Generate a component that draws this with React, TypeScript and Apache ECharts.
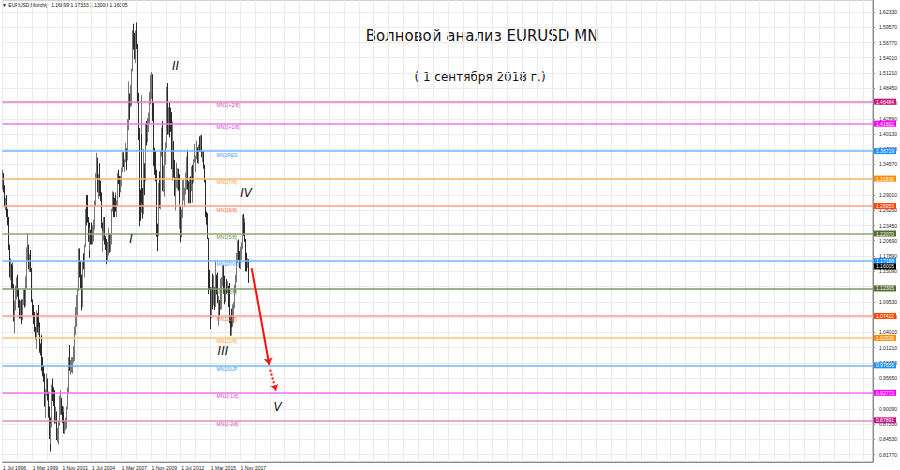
import React, { useEffect, useRef } from 'react';
import * as echarts from 'echarts';

// Monthly EURUSD bars, Jul 1996 .. Aug 2018 (one line per year)
const opens = [
  1.305, 1.325, 1.303, 1.272, 1.281, 1.262,
  1.245, 1.196, 1.148, 1.160, 1.128, 1.150, 1.123, 1.065, 1.087, 1.118, 1.132, 1.110,
  1.092, 1.073, 1.085, 1.066, 1.095, 1.105, 1.097, 1.110, 1.128, 1.185, 1.195, 1.160,
  1.168, 1.156, 1.098, 1.077, 1.058, 1.042, 1.035, 1.069, 1.048, 1.068, 1.056, 1.008,
  1.007, 0.970, 0.965, 0.957, 0.910, 0.934, 0.954, 0.927, 0.889, 0.883, 0.850, 0.871,
  0.939, 0.932, 0.921, 0.880, 0.889, 0.848, 0.848, 0.877, 0.911, 0.911, 0.903, 0.890,
  0.890, 0.859, 0.867, 0.872, 0.902, 0.933, 0.991, 0.978, 0.981, 0.986, 0.988, 0.993,
  1.049, 1.076, 1.079, 1.091, 1.118, 1.180, 1.150, 1.124, 1.098, 1.165, 1.159, 1.199,
  1.259, 1.248, 1.247, 1.232, 1.197, 1.220, 1.219, 1.202, 1.217, 1.243, 1.276, 1.329,
  1.356, 1.304, 1.325, 1.296, 1.287, 1.230, 1.210, 1.213, 1.232, 1.203, 1.199, 1.179,
  1.184, 1.215, 1.192, 1.212, 1.262, 1.291, 1.279, 1.277, 1.281, 1.268, 1.275, 1.325,
  1.320, 1.303, 1.323, 1.335, 1.365, 1.345, 1.353, 1.369, 1.363, 1.426, 1.449, 1.466,
  1.459, 1.486, 1.519, 1.579, 1.559, 1.555, 1.575, 1.562, 1.468, 1.409, 1.273, 1.269,
  1.397, 1.281, 1.267, 1.325, 1.323, 1.415, 1.403, 1.425, 1.433, 1.464, 1.472, 1.500,
  1.433, 1.386, 1.363, 1.351, 1.329, 1.230, 1.223, 1.305, 1.268, 1.363, 1.393, 1.299,
  1.338, 1.369, 1.380, 1.417, 1.481, 1.439, 1.450, 1.439, 1.438, 1.339, 1.385, 1.344,
  1.296, 1.308, 1.333, 1.334, 1.324, 1.237, 1.266, 1.230, 1.257, 1.286, 1.296, 1.299,
  1.319, 1.358, 1.306, 1.282, 1.317, 1.300, 1.301, 1.330, 1.322, 1.353, 1.358, 1.359,
  1.374, 1.349, 1.380, 1.377, 1.387, 1.363, 1.369, 1.339, 1.313, 1.263, 1.253, 1.245,
  1.210, 1.129, 1.119, 1.073, 1.122, 1.099, 1.115, 1.098, 1.121, 1.118, 1.100, 1.057,
  1.086, 1.083, 1.087, 1.138, 1.145, 1.113, 1.110, 1.117, 1.116, 1.124, 1.098, 1.059,
  1.052, 1.080, 1.058, 1.065, 1.090, 1.124, 1.142, 1.184, 1.191, 1.181, 1.165, 1.190,
  1.200, 1.241, 1.219, 1.232, 1.208, 1.169, 1.168, 1.16899,
];
const highs = [
  1.336, 1.330, 1.308, 1.285, 1.290, 1.265,
  1.250, 1.200, 1.175, 1.165, 1.168, 1.162, 1.128, 1.098, 1.125, 1.140, 1.145, 1.120,
  1.100, 1.098, 1.100, 1.100, 1.118, 1.118, 1.115, 1.142, 1.195, 1.220, 1.200, 1.182,
  1.190, 1.157, 1.100, 1.090, 1.077, 1.050, 1.080, 1.075, 1.075, 1.090, 1.058, 1.020,
  1.035, 0.995, 0.980, 0.965, 0.936, 0.965, 0.956, 0.932, 0.905, 0.885, 0.875, 0.945,
  0.956, 0.940, 0.935, 0.905, 0.896, 0.866, 0.880, 0.925, 0.935, 0.921, 0.906, 0.905,
  0.895, 0.880, 0.885, 0.905, 0.940, 0.995, 1.017, 0.990, 0.995, 0.995, 1.015, 1.050,
  1.086, 1.093, 1.108, 1.120, 1.193, 1.193, 1.170, 1.145, 1.170, 1.184, 1.200, 1.265,
  1.290, 1.290, 1.250, 1.240, 1.230, 1.227, 1.240, 1.235, 1.245, 1.280, 1.330, 1.367,
  1.358, 1.328, 1.348, 1.316, 1.295, 1.240, 1.225, 1.250, 1.250, 1.215, 1.210, 1.205,
  1.230, 1.220, 1.218, 1.265, 1.297, 1.295, 1.285, 1.295, 1.290, 1.280, 1.330, 1.336,
  1.325, 1.325, 1.340, 1.368, 1.368, 1.355, 1.385, 1.375, 1.428, 1.450, 1.497, 1.475,
  1.490, 1.520, 1.590, 1.602, 1.585, 1.590, 1.604, 1.565, 1.476, 1.412, 1.300, 1.472,
  1.400, 1.303, 1.374, 1.348, 1.420, 1.425, 1.430, 1.440, 1.478, 1.509, 1.514, 1.510,
  1.458, 1.396, 1.376, 1.370, 1.336, 1.238, 1.312, 1.333, 1.370, 1.413, 1.425, 1.344,
  1.372, 1.386, 1.424, 1.487, 1.494, 1.450, 1.458, 1.449, 1.441, 1.424, 1.388, 1.354,
  1.323, 1.349, 1.339, 1.338, 1.328, 1.275, 1.269, 1.264, 1.317, 1.318, 1.303, 1.331,
  1.360, 1.371, 1.315, 1.322, 1.324, 1.342, 1.335, 1.345, 1.355, 1.383, 1.362, 1.389,
  1.377, 1.382, 1.397, 1.399, 1.399, 1.370, 1.370, 1.345, 1.318, 1.290, 1.260, 1.257,
  1.212, 1.154, 1.122, 1.122, 1.147, 1.144, 1.122, 1.171, 1.145, 1.149, 1.105, 1.106,
  1.099, 1.138, 1.141, 1.162, 1.162, 1.143, 1.119, 1.137, 1.133, 1.125, 1.130, 1.070,
  1.082, 1.083, 1.091, 1.095, 1.127, 1.145, 1.185, 1.207, 1.209, 1.188, 1.196, 1.204,
  1.254, 1.256, 1.248, 1.240, 1.210, 1.185, 1.175, 1.17333,
];
const lows = [
  1.300, 1.295, 1.268, 1.262, 1.250, 1.235,
  1.190, 1.140, 1.135, 1.120, 1.125, 1.118, 1.060, 1.038, 1.080, 1.100, 1.105, 1.085,
  1.065, 1.065, 1.055, 1.062, 1.090, 1.085, 1.088, 1.095, 1.120, 1.170, 1.155, 1.150,
  1.150, 1.095, 1.070, 1.055, 1.041, 1.027, 1.010, 1.040, 1.035, 1.050, 1.003, 0.998,
  0.970, 0.960, 0.950, 0.905, 0.884, 0.925, 0.916, 0.885, 0.846, 0.823, 0.837, 0.867,
  0.915, 0.906, 0.874, 0.874, 0.844, 0.840, 0.836, 0.870, 0.890, 0.890, 0.875, 0.875,
  0.856, 0.855, 0.862, 0.865, 0.900, 0.928, 0.970, 0.963, 0.967, 0.965, 0.985, 0.988,
  1.035, 1.065, 1.050, 1.069, 1.115, 1.140, 1.120, 1.080, 1.086, 1.155, 1.140, 1.195,
  1.235, 1.240, 1.205, 1.176, 1.190, 1.200, 1.200, 1.200, 1.205, 1.227, 1.270, 1.320,
  1.295, 1.283, 1.288, 1.279, 1.230, 1.200, 1.187, 1.207, 1.200, 1.190, 1.164, 1.170,
  1.180, 1.185, 1.187, 1.200, 1.260, 1.250, 1.250, 1.265, 1.260, 1.250, 1.270, 1.310,
  1.286, 1.295, 1.306, 1.332, 1.341, 1.332, 1.350, 1.335, 1.353, 1.408, 1.445, 1.427,
  1.450, 1.452, 1.515, 1.555, 1.537, 1.530, 1.556, 1.457, 1.390, 1.233, 1.243, 1.258,
  1.275, 1.247, 1.255, 1.290, 1.315, 1.380, 1.386, 1.405, 1.420, 1.455, 1.465, 1.425,
  1.385, 1.343, 1.327, 1.315, 1.214, 1.188, 1.215, 1.266, 1.264, 1.360, 1.297, 1.296,
  1.287, 1.345, 1.375, 1.410, 1.400, 1.400, 1.395, 1.405, 1.337, 1.316, 1.322, 1.288,
  1.262, 1.303, 1.300, 1.298, 1.236, 1.229, 1.204, 1.213, 1.248, 1.280, 1.268, 1.291,
  1.300, 1.300, 1.275, 1.275, 1.275, 1.297, 1.276, 1.310, 1.313, 1.349, 1.332, 1.355,
  1.348, 1.347, 1.369, 1.369, 1.359, 1.350, 1.338, 1.313, 1.259, 1.250, 1.236, 1.210,
  1.110, 1.118, 1.046, 1.066, 1.082, 1.089, 1.081, 1.086, 1.109, 1.093, 1.056, 1.052,
  1.071, 1.081, 1.082, 1.124, 1.110, 1.091, 1.095, 1.110, 1.112, 1.086, 1.057, 1.034,
  1.034, 1.049, 1.050, 1.057, 1.084, 1.112, 1.131, 1.166, 1.172, 1.157, 1.155, 1.172,
  1.192, 1.216, 1.215, 1.205, 1.151, 1.151, 1.157, 1.13008,
];
const closes = [
  1.325, 1.303, 1.272, 1.281, 1.262, 1.245,
  1.196, 1.148, 1.160, 1.128, 1.150, 1.123, 1.065, 1.087, 1.118, 1.132, 1.110, 1.092,
  1.073, 1.085, 1.066, 1.095, 1.105, 1.097, 1.110, 1.128, 1.185, 1.195, 1.160, 1.168,
  1.156, 1.098, 1.077, 1.058, 1.042, 1.035, 1.069, 1.048, 1.068, 1.056, 1.008, 1.007,
  0.970, 0.965, 0.957, 0.910, 0.934, 0.954, 0.927, 0.889, 0.883, 0.850, 0.871, 0.939,
  0.932, 0.921, 0.880, 0.889, 0.848, 0.848, 0.877, 0.911, 0.911, 0.903, 0.890, 0.890,
  0.859, 0.867, 0.872, 0.902, 0.933, 0.991, 0.978, 0.981, 0.986, 0.988, 0.993, 1.049,
  1.076, 1.079, 1.091, 1.118, 1.180, 1.150, 1.124, 1.098, 1.165, 1.159, 1.199, 1.259,
  1.248, 1.247, 1.232, 1.197, 1.220, 1.219, 1.202, 1.217, 1.243, 1.276, 1.329, 1.356,
  1.304, 1.325, 1.296, 1.287, 1.230, 1.210, 1.213, 1.232, 1.203, 1.199, 1.179, 1.184,
  1.215, 1.192, 1.212, 1.262, 1.291, 1.279, 1.277, 1.281, 1.268, 1.275, 1.325, 1.320,
  1.303, 1.323, 1.335, 1.365, 1.345, 1.353, 1.369, 1.363, 1.426, 1.449, 1.466, 1.459,
  1.486, 1.519, 1.579, 1.559, 1.555, 1.575, 1.562, 1.468, 1.409, 1.273, 1.269, 1.397,
  1.281, 1.267, 1.325, 1.323, 1.415, 1.403, 1.425, 1.433, 1.464, 1.472, 1.500, 1.433,
  1.386, 1.363, 1.351, 1.329, 1.230, 1.223, 1.305, 1.268, 1.363, 1.393, 1.299, 1.338,
  1.369, 1.380, 1.417, 1.481, 1.439, 1.450, 1.439, 1.438, 1.339, 1.385, 1.344, 1.296,
  1.308, 1.333, 1.334, 1.324, 1.237, 1.266, 1.230, 1.257, 1.286, 1.296, 1.299, 1.319,
  1.358, 1.306, 1.282, 1.317, 1.300, 1.301, 1.330, 1.322, 1.353, 1.358, 1.359, 1.374,
  1.349, 1.380, 1.377, 1.387, 1.363, 1.369, 1.339, 1.313, 1.263, 1.253, 1.245, 1.210,
  1.129, 1.119, 1.073, 1.122, 1.099, 1.115, 1.098, 1.121, 1.118, 1.100, 1.057, 1.086,
  1.083, 1.087, 1.138, 1.145, 1.113, 1.110, 1.117, 1.116, 1.124, 1.098, 1.059, 1.052,
  1.080, 1.058, 1.065, 1.090, 1.124, 1.142, 1.184, 1.191, 1.181, 1.165, 1.190, 1.200,
  1.241, 1.219, 1.232, 1.208, 1.169, 1.168, 1.169, 1.16005,
];

const monthShort = ['Jan', 'Feb', 'Mar', 'Apr', 'May', 'Jun', 'Jul', 'Aug', 'Sep', 'Oct', 'Nov', 'Dec'];
const startYear = 1996;
const startMonth = 6; // July
const slotCount = 938; // months visible across the chart width (incl. empty right shift)
const categories: string[] = [];
for (let i = 0; i < slotCount; i++) {
  const m = startMonth + i;
  categories.push('1 ' + monthShort[m % 12] + ' ' + (startYear + Math.floor(m / 12)));
}

const xTickLabels = ['1 Jul 1996', '1 Mar 1999', '1 Nov 2001', '1 Jul 2004', '1 Mar 2007', '1 Nov 2009', '1 Jul 2012', '1 Mar 2015', '1 Nov 2017'];
// grid/tick positions of the price scale
const yTickValues = [
  1.6233, 1.5957, 1.5677, 1.5401, 1.5121, 1.4845, 1.4569, 1.4289, 1.4013, 1.3733,
  1.3457, 1.3181, 1.2901, 1.2625, 1.2345, 1.2069, 1.1789, 1.1509, 1.1233, 1.0953,
  1.0677, 1.0401, 1.0121, 0.9845, 0.9565, 0.9289, 0.9009, 0.8733, 0.8453, 0.8177,
];
// price labels that are not hidden behind a level tag
const yLabelValues = [
  1.6233, 1.5957, 1.5677, 1.5401, 1.5121, 1.4845, 1.4569, 1.4289, 1.4013, 1.3733,
  1.3457, 1.2901, 1.2625, 1.2345, 1.2069, 1.1789, 1.1509, 1.0953,
  1.0677, 1.0401, 1.0121, 0.9845, 0.9565, 0.9009, 0.8733, 0.8453, 0.8177,
];
const yMin = 0.80405;
const yMax = 1.6451;

const levelValues = [1.46484, 1.41602, 1.36719, 1.31836, 1.26953, 1.2207, 1.17188, 1.12305, 1.07422, 1.02539, 0.97656, 0.92773, 0.87891];
const levelNames = ['MN1[+2/8]', 'MN1[+1/8]', 'MN1RES', 'MN1[7/8]', 'MN1[6/8]', 'MN1[5/8]', 'MN1PIVOT', 'MN1[3/8]', 'MN1[2/8]', 'MN1[1/8]', 'MN1SUP', 'MN1[-1/8]', 'MN1[-2/8]'];
const levelLineColors = ['#e97cc2', '#ef77ef', '#72b6ff', '#ffb86c', '#ffa08a', '#8ea66c', '#72b6ff', '#7f9866', '#ffa08a', '#ffc27a', '#72b6ff', '#ef77ef', '#e58cb8'];
const levelTagColors = ['#c8197d', '#ff00ff', '#1e90ff', '#ff8c00', '#ff4500', '#556b2f', '#1e90ff', '#556b2f', '#ff4500', '#ff8c00', '#1e90ff', '#ff00ff', '#c71585'];
const levelTextColors = ['#d455a8', '#e040e0', '#3d9cff', '#ff9a30', '#ff7050', '#6f8a4c', '#3d9cff', '#6f8a4c', '#ff7050', '#ff9a30', '#3d9cff', '#e040e0', '#d455a8'];

const waveLabels = ['I', 'II', 'III', 'IV', 'V'];
const waveIndex = [138, 186, 237, 262, 296];
const waveValue = [1.210, 1.525, 1.006, 1.294, 0.904];

const arrowSolid = [[268, 1.157], [287, 0.981]];
const arrowDotted = [[288, 0.972], [294, 0.934]];

const titleText = 'Волновой анализ EURUSD MN';
const subtitleText = '( 1 сентября 2018 г.)';
const symbolText = 'EURUSD,Monthly';

export default function App() {
  const ref = useRef<HTMLDivElement>(null);
  useEffect(() => {
    const chart = echarts.init(ref.current as HTMLDivElement, null, { renderer: 'svg' });
    const last = closes.length - 1;
    const candleData = closes.map((c, i) => [opens[i], c, lows[i], highs[i]]);
    const small = 'Liberation Sans';
    const header = '\u25BC ' + symbolText + '  ' + [opens[last], highs[last], lows[last], closes[last]].map((v) => v.toFixed(5)).join(' ');
    const tagLabel = (text: string, bg: string) => ({
      show: true, position: 'end', distance: 1, formatter: text, color: '#ffffff', backgroundColor: bg,
      padding: [1, 2, 0, 2], fontSize: 5, fontFamily: small, opacity: 1,
    });

    const option: any = {
      animation: false,
      backgroundColor: '#ffffff',
      textStyle: { fontFamily: small },
      grid: { left: 0, top: 0, width: 879, height: 462, show: true, borderColor: '#a0a0a0', borderWidth: 1, backgroundColor: '#ffffff' },
      xAxis: {
        type: 'category',
        data: categories,
        boundaryGap: true,
        axisLine: { show: true, lineStyle: { color: '#8c8c8c' } },
        axisTick: { show: false },
        axisLabel: {
          interval: 31,
          formatter: (v: string) => (xTickLabels.indexOf(v) >= 0 ? v : ''),
          align: 'left',
          fontSize: 5,
          color: '#222',
          margin: 3,
          fontFamily: small,
        },
        splitLine: { show: true, interval: 15, lineStyle: { color: '#ebebeb', width: 1 } },
      },
      yAxis: {
        type: 'value',
        position: 'right',
        min: yMin,
        max: yMax,
        axisLine: { show: true, lineStyle: { color: '#8c8c8c' } },
        axisTick: { show: true, length: 2, customValues: yTickValues, lineStyle: { color: '#8c8c8c' } },
        axisLabel: { customValues: yLabelValues, formatter: (v: number) => v.toFixed(5), fontSize: 5, color: '#222', margin: 6, fontFamily: small },
        splitLine: { show: true, lineStyle: { color: '#ebebeb', width: 1 } },
      },
      graphic: [
        { type: 'text', left: 2, top: 2, style: { text: header, fontSize: 5, fill: '#111', fontFamily: small } },
        { type: 'text', x: 482, y: 36, style: { text: titleText, fontSize: 15, fill: '#111', fontFamily: 'DejaVu Sans', textAlign: 'center', textVerticalAlign: 'middle' } },
        { type: 'text', x: 480, y: 77, style: { text: subtitleText, fontSize: 12, fill: '#111', fontFamily: 'DejaVu Sans', textAlign: 'center', textVerticalAlign: 'middle' } },
      ],
      series: [
        {
          type: 'candlestick',
          data: candleData,
          barWidth: 1,
          itemStyle: { color: '#ffffff', color0: '#2a2a2a', borderColor: '#777777', borderColor0: '#2a2a2a', borderWidth: 1 },
          z: 3,
        },
        {
          type: 'line',
          data: [],
          silent: true,
          clip: false,
          symbol: 'none',
          z: 2,
          markLine: {
            silent: true,
            symbol: 'none',
            animation: false,
            data: levelValues.map((v, i) => ({
              yAxis: v,
              lineStyle: { color: levelLineColors[i], width: 1.5, type: 'solid' },
              label: { show: true, position: 'insideStartBottom', distance: [214, 1], formatter: levelNames[i], color: levelTextColors[i], fontSize: 5, fontFamily: small },
            })),
          },
        },
        {
          type: 'line',
          data: [],
          silent: true,
          clip: false,
          symbol: 'none',
          z: 5,
          markLine: {
            silent: true,
            symbol: 'none',
            animation: false,
            lineStyle: { color: 'rgba(0,0,0,0)', width: 1 },
            data: levelValues
              .map((v, i) => ({ yAxis: v, label: tagLabel(v.toFixed(5), levelTagColors[i]) }))
              .concat([{ yAxis: closes[last], label: tagLabel(closes[last].toFixed(5), '#000000') }]),
          },
        },
        {
          type: 'line',
          data: [],
          silent: true,
          clip: false,
          symbol: 'none',
          z: 6,
          markLine: {
            silent: true,
            symbol: ['none', 'arrow'],
            symbolSize: 7,
            animation: false,
            lineStyle: { color: '#ff1010', width: 2, type: 'solid' },
            label: { show: false },
            data: [[{ coord: arrowSolid[0] }, { coord: arrowSolid[1] }]],
          },
        },
        {
          type: 'line',
          data: [],
          silent: true,
          clip: false,
          symbol: 'none',
          z: 6,
          markLine: {
            silent: true,
            symbol: ['none', 'arrow'],
            symbolSize: 6,
            animation: false,
            lineStyle: { color: '#ff1010', width: 2, type: 'dotted' },
            label: { show: false },
            data: [[{ coord: arrowDotted[0] }, { coord: arrowDotted[1] }]],
          },
        },
        {
          type: 'line',
          data: [],
          silent: true,
          clip: false,
          symbol: 'none',
          z: 7,
          markPoint: {
            silent: true,
            animation: false,
            symbol: 'circle',
            symbolSize: 1,
            itemStyle: { color: 'rgba(0,0,0,0)' },
            data: waveLabels.map((t, i) => ({
              coord: [waveIndex[i], waveValue[i]],
              label: { show: true, position: 'inside', formatter: t, fontSize: 12, fontStyle: 'italic', color: '#111', fontFamily: 'DejaVu Sans' },
            })),
          },
        },
      ],
    };
    chart.setOption(option);
    return () => chart.dispose();
  }, []);
  return <div ref={ref} style={{ position: 'fixed', left: 0, top: 0, width: 900, height: 470, background: '#fff' }} />;
}
